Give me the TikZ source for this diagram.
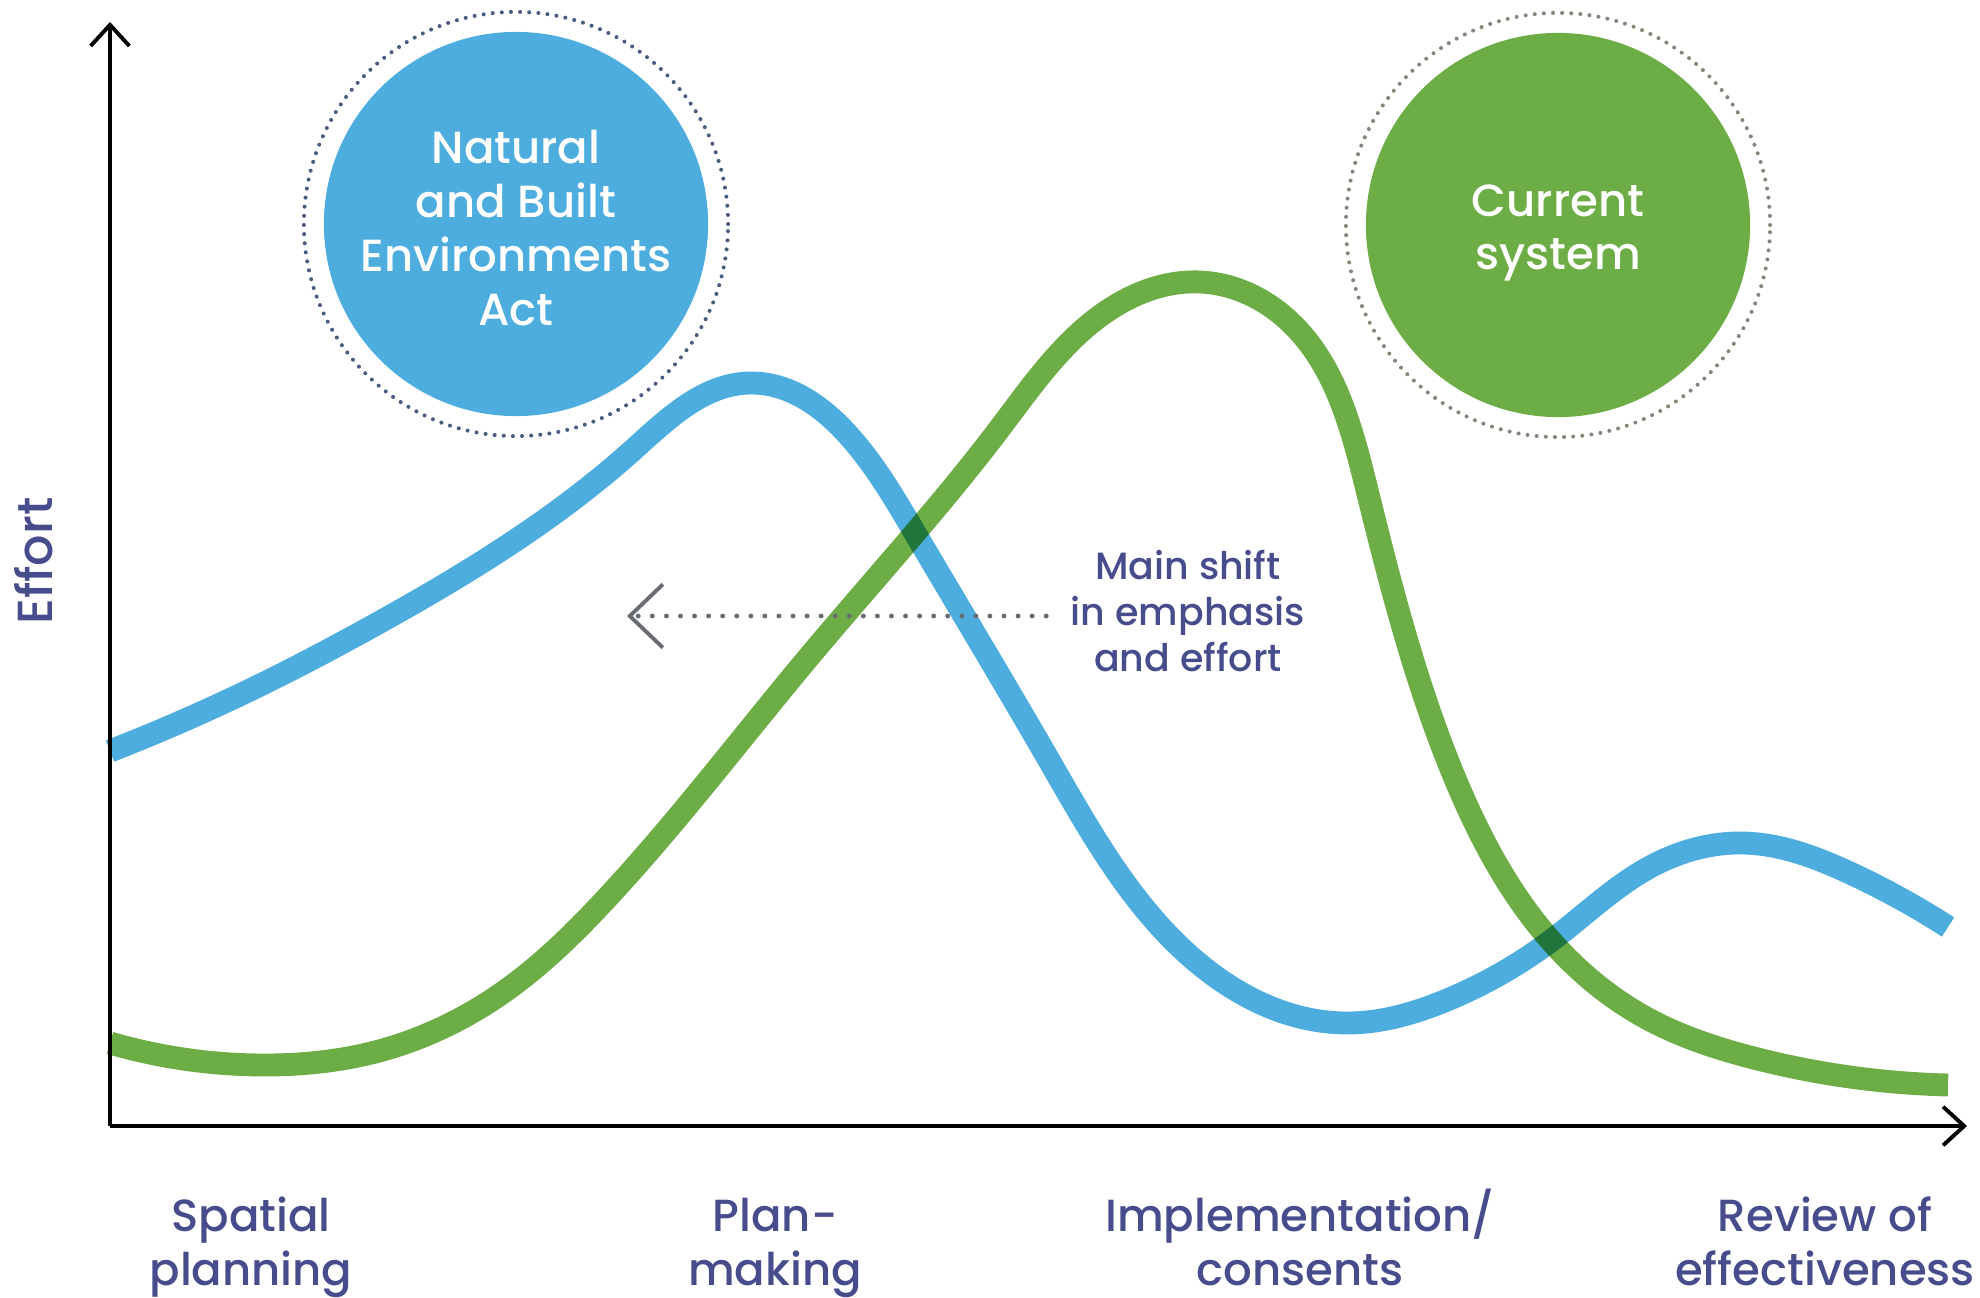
\documentclass[tikz,border=0pt]{standalone}
\usepackage{fontspec}
\IfFontExistsTF{Poppins Medium}{\setmainfont{Poppins Medium}}{\setmainfont{Poppins}[FakeBold=0.4]}
\usepackage{tikz}
\usetikzlibrary{positioning,arrows.meta,calc,hobby}
\definecolor{nbablue}{HTML}{4DADDE}
\definecolor{curgreen}{HTML}{6DAD45}
\definecolor{labelnavy}{HTML}{474C8C}
\definecolor{ringnavy}{HTML}{4A5C80}
\definecolor{ringgrey}{HTML}{7F8B78}
\definecolor{shiftgrey}{HTML}{6A6C74}
\newcommand{\labelfont}{\fontsize{12.8}{15.3}\selectfont}
\newcommand{\shiftfont}{\fontsize{10.8}{13.2}\selectfont}
\tikzset{
  bubble/.style={circle, minimum size=3.84cm, inner sep=0pt},
  ring/.style={circle, draw, dash pattern=on 0pt off 2.6pt, line cap=round, line width=1.15pt, minimum size=4.24cm, inner sep=0pt},
  bubbletext/.style={text=white, align=center, font=\labelfont, inner sep=0pt},
  curve/.style={line width=6.5pt, use Hobby shortcut},
  axis/.style={line width=1.1pt, -{Straight Barb[length=6pt, width=11pt, line width=1.1pt]}},
  phase/.style={text=labelnavy, align=center, font=\labelfont, inner sep=0pt},
}

\begin{document}
\begin{tikzpicture}[x=0.01cm, y=-0.01cm]
\useasboundingbox (0,0) rectangle (1980,1297);

% axes
\coordinate (origin) at (110,1126);
\coordinate (ytip)   at (110,22);
\coordinate (xtip)   at (1967,1126);
\draw[axis] (origin) -- (ytip);
\draw[axis] (origin) -- (xtip);
\node (effort) [phase, rotate=90, font=\fontsize{14}{16}\selectfont] at (34,561) {Effort};

% phases
\node (spatial) [phase, anchor=base] at (251,1285)  {Spatial\\planning};
\node (plan)    [phase, anchor=base] at (775,1285)  {Plan-\\making};
\node (impl)    [phase, anchor=base] at (1300,1285) {Implementation/\\consents};
\node (review)  [phase, anchor=base] at (1825,1285) {Review of\\effectiveness};

% effort curves
\begin{scope}[blend mode=multiply]
\draw[curve, nbablue] (110,751) .. (250,690) .. (380,622) .. (633,450)
  .. (750,383) .. (850,437) .. (915,533) .. (1050,762) .. (1180,947)
  .. (1347,1023) .. (1447,1000) .. (1552,940) .. (1650,867) .. (1743,843)
  .. (1850,873) .. (1948,927);
\draw[curve, curgreen] (110,1043) .. (265,1065) .. (379,1051) .. (505,991)
  .. (606,899) .. (808,658) .. (1000,428) .. (1100,316) .. (1200,282)
  .. (1290,322) .. (1367,490) .. (1456,781) .. (1552,942) .. (1650,1020)
  .. (1750,1057) .. (1850,1077) .. (1948,1085);
\end{scope}

% systems
\node (nba)      [bubble, fill=nbablue] at (516,224) {};
\node (nbaring)  [ring, ringnavy] at (nba) {};
\node (nbatext)  [bubbletext] at (516,228) {Natural\\and Built\\Environments\\Act};
\node (current)  [bubble, fill=curgreen] at (1558,225) {};
\node (curring)  [ring, ringgrey] at (current) {};
\node (curtext)  [bubbletext] at (1558,233) {Current\\system};

% shift
\node (shift) [phase, font=\shiftfont] at (1188,611) {Main shift\\in emphasis\\and effort};
\coordinate (shiftend) at (627,616);
\draw[shiftgrey, line width=1.4pt, line cap=round, dash pattern=on 0pt off 4pt,
  -{Straight Barb[length=9.4pt, width=18pt, line width=1.1pt]}, shorten <=0.24cm]
  (shift.west |- shiftend) -- (shiftend);
\end{tikzpicture}
\end{document}
